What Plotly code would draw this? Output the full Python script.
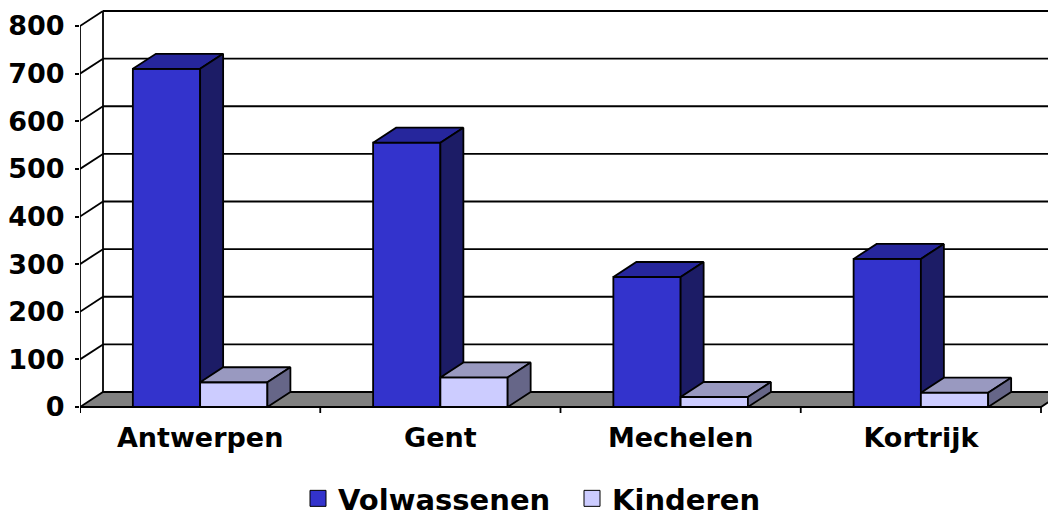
import plotly.graph_objects as go

# ---------------- data ----------------
categories = ["Antwerpen", "Gent", "Mechelen", "Kortrijk"]
volwassenen = [710, 555, 273, 311]
kinderen = [52, 62, 21, 30]
y_ticks = [0, 100, 200, 300, 400, 500, 600, 700, 800]
series_names = ["Volwassenen", "Kinderen"]

# ---------------- styling / layout constants ----------------
PAGE_OFF = 8                           # default page margin of the browser
W, H = 1056 - PAGE_OFF, 520 - PAGE_OFF
L, R, T, B = 80 - PAGE_OFF, W, 0, 415 - PAGE_OFF   # plot area (figure px)
PX_X = 240.25                          # pixels per category unit
Y0_PX = 407 - PAGE_OFF                 # pixel row of value 0 (front)
PX_Y = 0.47625                         # pixels per value unit
x_range = [0, (R - L) / PX_X]
y_range = [(Y0_PX - B) / PX_Y, (Y0_PX - T) / PX_Y]

DEPTH_X = 23 / PX_X                    # 3-D depth offset in data units
DEPTH_Y = 15 / PX_Y
BAR_W = 0.28
TICK_DOWN = 6 / PX_Y

FONT = dict(family="DejaVu Sans", size=27, color="black", weight="bold")
colors = {
    "Volwassenen": dict(front="#3333CC", top="#26269C", side="#1C1C66"),
    "Kinderen": dict(front="#CCCCFF", top="#9999C0", side="#666688"),
}
EDGE = dict(color="black", width=1.8)

fig = go.Figure()


def poly(xs, ys, fill, line=EDGE):
    fig.add_trace(go.Scatter(
        x=list(xs) + [xs[0]], y=list(ys) + [ys[0]], mode="lines",
        fill="toself", fillcolor=fill, line=line, hoverinfo="skip",
        showlegend=False))


def seg(xs, ys, color="black", width=1.8):
    fig.add_trace(go.Scatter(x=xs, y=ys, mode="lines",
                             line=dict(color=color, width=width),
                             hoverinfo="skip", showlegend=False))


ncat = len(categories)
top_val = y_ticks[-1]

# back-wall gridlines + side-wall diagonals
for v in y_ticks[1:]:
    seg([DEPTH_X, x_range[1] + 1], [v + DEPTH_Y, v + DEPTH_Y])
    seg([0, DEPTH_X], [v, v + DEPTH_Y])
# back-wall left edge
seg([DEPTH_X, DEPTH_X], [DEPTH_Y, top_val + DEPTH_Y])
# floor
poly([0, ncat, ncat + DEPTH_X, DEPTH_X],
     [0, 0, DEPTH_Y, DEPTH_Y], "#808080")
# front value-axis line
seg([0, 0], [-TICK_DOWN, top_val])
# category tick marks
for i in range(ncat + 1):
    seg([i, i], [0, -TICK_DOWN])

# bars (front, top, side faces)
for i in range(ncat):
    for s, (name, vals) in enumerate(zip(series_names, [volwassenen, kinderen])):
        c = colors[name]
        x0 = i + 0.5 - BAR_W + s * BAR_W
        x1 = x0 + BAR_W
        v = vals[i]
        poly([x0, x1, x1, x0], [0, 0, v, v], c["front"])
        poly([x0, x1, x1 + DEPTH_X, x0 + DEPTH_X],
             [v, v, v + DEPTH_Y, v + DEPTH_Y], c["top"])
        poly([x1, x1 + DEPTH_X, x1 + DEPTH_X, x1],
             [0, DEPTH_Y, v + DEPTH_Y, v], c["side"])

# legend entries
for name in series_names:
    fig.add_trace(go.Scatter(
        x=[None], y=[None], mode="markers", name=name,
        marker=dict(symbol="square", size=18, color=colors[name]["front"],
                    line=dict(color="black", width=1))))

fig.update_layout(
    width=W, height=H,
    margin=dict(l=L, r=W - R, t=T, b=H - B, pad=0, autoexpand=False),
    paper_bgcolor="white", plot_bgcolor="white",
    font=FONT,
    showlegend=True,
    legend=dict(orientation="h",
                x=(298 - PAGE_OFF - L) / (R - L), xanchor="left",
                y=-(H - B + 4) / (B - T), yanchor="bottom",
                font=dict(family="DejaVu Sans", size=29, color="black",
                          weight="bold"),
                entrywidth=229, itemsizing="trace",
                bgcolor="rgba(0,0,0,0)"),
    xaxis=dict(range=x_range, tickvals=[i + 0.5 for i in range(ncat)],
               ticktext=categories, ticks="", showline=False,
               showgrid=False, zeroline=False, tickfont=FONT,
               ticklabelstandoff=4, fixedrange=True, automargin=False),
    yaxis=dict(range=y_range, tickvals=y_ticks,
               ticktext=[str(t) for t in y_ticks],
               ticks="outside", ticklen=4, tickwidth=1.8, tickcolor="black",
               showline=False, showgrid=False, zeroline=False,
               tickfont=FONT, ticklabelstandoff=5, fixedrange=True,
               automargin=False),
)

fig.write_html("out.html")
